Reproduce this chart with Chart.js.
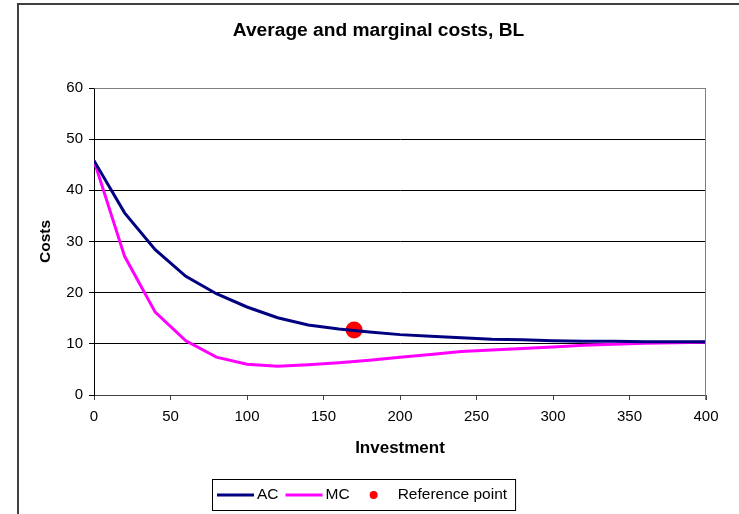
<!DOCTYPE html>
<html>
<head>
<meta charset="utf-8">
<script src="https://cdn.jsdelivr.net/npm/chart.js@4.4.1/dist/chart.umd.min.js"></script>
<style>
  html, body { margin: 0; padding: 0; background: #fff; }
  #wrap { width: 739px; height: 514px; position: relative; }
</style>
</head>
<body>
<div id="wrap"><canvas id="c" width="739" height="514"></canvas></div>
<script>
// ---- data ----
const investment = [0, 20, 40, 60, 80, 100, 120, 140, 160, 180, 200, 220, 240, 260, 280, 300, 320, 340, 360, 380, 400];
const acValues   = [45.8, 35.6, 28.4, 23.2, 19.8, 17.2, 15.1, 13.7, 12.9, 12.3, 11.8, 11.5, 11.2, 10.9, 10.8, 10.6, 10.5, 10.5, 10.4, 10.4, 10.4];
const mcValues   = [45.8, 27.1, 16.2, 10.6, 7.4, 6.0, 5.6, 5.9, 6.3, 6.8, 7.4, 7.9, 8.5, 8.8, 9.1, 9.4, 9.7, 9.9, 10.1, 10.2, 10.3];
const referenceX = [170];
const referenceY = [12.7];
const seriesNames = ['AC', 'MC', 'Reference point'];
const chartTitle = 'Average and marginal costs, BL';
const xTitle = 'Investment';
const yTitle = 'Costs';

const FONT = '"Liberation Sans", Arial, Helvetica, sans-serif';
const FRAME_LEFT = 18, FRAME_TOP = 4;

function pairs(xs, ys) { return xs.map((x, i) => ({ x: x, y: ys[i] })); }

// outer frame, white background, title centred in the frame
const framePlugin = {
  id: 'frame',
  beforeDraw(chart) {
    const ctx = chart.ctx;
    ctx.save();
    ctx.fillStyle = '#ffffff';
    ctx.fillRect(0, 0, chart.width, chart.height);
    ctx.strokeStyle = '#404040';
    ctx.lineWidth = 2;
    ctx.strokeRect(FRAME_LEFT, FRAME_TOP, chart.width + 20, chart.height + 20);
    ctx.fillStyle = '#000';
    ctx.font = 'bold 19.2px ' + FONT;
    ctx.textAlign = 'center';
    ctx.textBaseline = 'middle';
    ctx.fillText(chartTitle, (FRAME_LEFT + chart.width) / 2, 31);
    ctx.restore();
  },
  afterDatasetsDraw(chart) {
    const a = chart.chartArea, ctx = chart.ctx;
    ctx.save();
    ctx.strokeStyle = '#808080';
    ctx.lineWidth = 1;
    ctx.beginPath();
    ctx.moveTo(Math.round(a.left) + 0.5, Math.round(a.top) + 0.5);
    ctx.lineTo(Math.round(a.right) - 0.5, Math.round(a.top) + 0.5);
    ctx.lineTo(Math.round(a.right) - 0.5, Math.round(a.bottom) + 5);
    ctx.stroke();
    ctx.restore();
  }
};

// boxed legend at the bottom
const boxLegend = {
  id: 'boxLegend',
  afterDraw(chart) {
    const ctx = chart.ctx;
    const ds = chart.data.datasets;
    ctx.save();
    ctx.font = '15.5px ' + FONT;
    ctx.textBaseline = 'middle';
    const items = ds.map(d => ({
      label: d.label,
      isLine: d.showLine !== false,
      color: d.showLine === false ? d.backgroundColor : d.borderColor,
      w: ctx.measureText(d.label).width
    }));
    let total = 5;
    items.forEach((it, i) => {
      total += (it.isLine ? 40 : 41) + it.w;
      if (i < items.length - 1) total += 7;
    });
    total += 8;
    const boxH = 31;
    const left = Math.round(chart.width / 2 - 6 - total / 2);
    const top = chart.height - 35;
    const cy = top + boxH / 2 + 0.5;
    ctx.strokeStyle = '#000';
    ctx.lineWidth = 1;
    ctx.strokeRect(left + 0.5, top + 0.5, total, boxH);
    let x = left + 5;
    items.forEach((it) => {
      if (it.isLine) {
        ctx.strokeStyle = it.color;
        ctx.lineWidth = 3;
        ctx.beginPath();
        ctx.moveTo(x, cy);
        ctx.lineTo(x + 37, cy);
        ctx.stroke();
        ctx.fillStyle = '#000';
        ctx.textAlign = 'left';
        ctx.fillText(it.label, x + 40, cy);
        x += 40 + it.w;
      } else {
        ctx.fillStyle = it.color;
        ctx.beginPath();
        ctx.arc(x + 17, cy, 4, 0, Math.PI * 2);
        ctx.fill();
        ctx.fillStyle = '#000';
        ctx.textAlign = 'left';
        ctx.fillText(it.label, x + 41, cy);
        x += 41 + it.w;
      }
      x += 7;
    });
    ctx.restore();
  }
};

new Chart(document.getElementById('c'), {
  type: 'line',
  data: {
    datasets: [
      {
        label: seriesNames[0],
        data: pairs(investment, acValues),
        borderColor: '#000080',
        backgroundColor: '#000080',
        borderWidth: 3,
        pointRadius: 0,
        tension: 0,
        fill: false
      },
      {
        label: seriesNames[1],
        data: pairs(investment, mcValues),
        borderColor: '#FF00FF',
        backgroundColor: '#FF00FF',
        borderWidth: 3,
        pointRadius: 0,
        tension: 0,
        fill: false
      },
      {
        label: seriesNames[2],
        data: pairs(referenceX, referenceY),
        showLine: false,
        borderColor: '#FF0000',
        backgroundColor: '#FF0000',
        pointRadius: 8.5,
        pointBorderWidth: 0,
        pointStyle: 'circle'
      }
    ]
  },
  options: {
    responsive: false,
    animation: false,
    devicePixelRatio: 1,
    layout: { padding: { left: 0, right: 33, top: 88, bottom: 49 } },
    plugins: {
      legend: { display: false },
      tooltip: { enabled: false },
      title: { display: false }
    },
    scales: {
      x: {
        type: 'linear',
        min: 0, max: 400,
        afterFit(scale) { scale.height = 70; },
        ticks: {
          stepSize: 50,
          color: '#000',
          padding: 8,
          maxRotation: 0,
          font: { family: FONT, size: 15 }
        },
        grid: {
          drawOnChartArea: false,
          tickLength: 5,
          tickColor: '#404040',
          color: '#404040'
        },
        border: { display: true, color: '#404040', width: 1 },
        title: {
          display: true,
          text: xTitle,
          color: '#000',
          font: { family: FONT, size: 17, weight: 'bold', lineHeight: 1.2 },
          padding: { top: 0, bottom: 6 }
        }
      },
      y: {
        min: 0, max: 60,
        afterFit(scale) { scale.width = 94; },
        ticks: {
          stepSize: 10,
          color: '#000',
          padding: 6,
          font: { family: FONT, size: 15 }
        },
        grid: {
          color: (c) => (c.tick && c.tick.value === 60) ? '#808080' : '#000000',
          tickColor: '#000',
          tickLength: 5,
          lineWidth: 1
        },
        border: { display: true, color: '#000', width: 1 },
        title: {
          display: true,
          text: yTitle,
          color: '#000',
          font: { family: FONT, size: 15.5, weight: 'bold', lineHeight: 1.2 },
          padding: { top: 36, bottom: 0 }
        }
      }
    }
  },
  plugins: [framePlugin, boxLegend]
});
</script>
</body>
</html>
